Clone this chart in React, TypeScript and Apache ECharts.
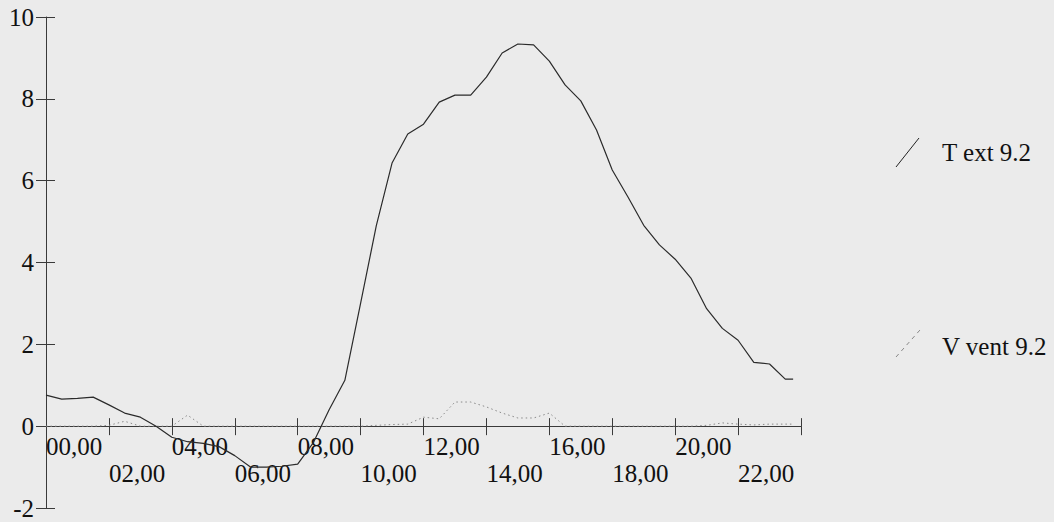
import React, { useEffect, useRef } from "react";
import * as echarts from "echarts";

// Time of day in hours (half-hourly readings)
const hours = [
  0, 0.5, 1, 1.5, 2, 2.5, 3, 3.5, 4, 4.5, 5, 5.5, 6, 6.5, 7, 7.5, 8, 8.5, 9, 9.5,
  10, 10.5, 11, 11.5, 12, 12.5, 13, 13.5, 14, 14.5, 15, 15.5, 16, 16.5, 17, 17.5,
  18, 18.5, 19, 19.5, 20, 20.5, 21, 21.5, 22, 22.5, 23, 23.5, 23.75,
];

// "T ext 9.2" – outside temperature
const textValues = [
  0.76, 0.66, 0.68, 0.71, 0.52, 0.32, 0.22, 0.0, -0.27, -0.38, -0.42, -0.5, -0.72,
  -1.0, -1.0, -0.98, -0.93, -0.4, 0.4, 1.12, 3.0, 4.9, 6.43, 7.14, 7.38, 7.92, 8.09,
  8.09, 8.53, 9.12, 9.34, 9.32, 8.92, 8.34, 7.95, 7.24, 6.26, 5.6, 4.91, 4.43, 4.08,
  3.62, 2.87, 2.39, 2.1, 1.56, 1.52, 1.15, 1.15,
];

// "V vent 9.2" – wind speed
const ventValues = [
  0, 0, 0, 0, 0.02, 0.12, 0, 0, 0, 0.27, 0, 0, 0, 0, 0, 0, 0, 0, 0, 0, 0, 0.02, 0.04,
  0.05, 0.22, 0.18, 0.59, 0.59, 0.47, 0.32, 0.2, 0.2, 0.32, 0, 0, 0, 0, 0, 0, 0, 0, 0,
  0.02, 0.08, 0.05, 0.03, 0.05, 0.05, 0.05,
];

const seriesNames = ["T ext 9.2", "V vent 9.2"];
const xMin = 0;
const xMax = 24;
const xStep = 2;
const yMin = -2;
const yMax = 10;
const yStep = 2;

const FONT = '"Liberation Serif", "Times New Roman", serif';
const AXIS_COLOR = "#3a3a3a";
const TEXT_COLOR = "#111111";

// grid geometry
const GRID_TOP = 17;
const GRID_BOTTOM = 14;
const CHART_H = 522;
const plotH = CHART_H - GRID_TOP - GRID_BOTTOM;
// distance from the grid's bottom edge up to the y = 0 line
const zeroLift = (plotH * (0 - yMin)) / (yMax - yMin);

function formatHour(v: number): string {
  if (v >= 24) return "";
  const s = (v < 10 ? "0" : "") + v + ",00";
  return v % 4 === 2 ? "\n" + s : s;
}

export default function App() {
  const ref = useRef<HTMLDivElement>(null);

  useEffect(() => {
    if (!ref.current) return;
    const chart = echarts.init(ref.current, undefined, { renderer: "svg" });

    const textData = hours.map((h, i) => [h, textValues[i]]);
    const ventData = hours.map((h, i) => [h, ventValues[i]]);

    const option: any = {
      animation: false,
      backgroundColor: "#ebebeb",
      textStyle: { fontFamily: FONT },
      grid: {
        left: 46,
        top: GRID_TOP,
        right: 253,
        bottom: GRID_BOTTOM,
        containLabel: false,
        outerBoundsMode: "none",
      },
      xAxis: [
        {
          type: "value",
          min: xMin,
          max: xMax,
          interval: xStep,
          position: "bottom",
          axisLine: {
            show: true,
            onZero: true,
            onZeroAxisIndex: 0,
            lineStyle: { color: AXIS_COLOR, width: 1.2 },
          },
          axisTick: {
            show: true,
            inside: false,
            length: 9,
            lineStyle: { color: AXIS_COLOR, width: 1 },
          },
          axisLabel: {
            show: true,
            formatter: formatHour,
            align: "left",
            verticalAlign: "top",
            margin: 7 - zeroLift,
            fontSize: 25,
            lineHeight: 27,
            color: TEXT_COLOR,
            fontFamily: FONT,
            showMinLabel: true,
            showMaxLabel: true,
          },
          splitLine: { show: false },
        },
        {
          type: "value",
          min: xMin,
          max: xMax,
          interval: xStep,
          position: "bottom",
          axisLine: { show: false, onZero: true, onZeroAxisIndex: 0 },
          axisTick: {
            show: true,
            inside: true,
            length: 8,
            lineStyle: { color: AXIS_COLOR, width: 1 },
          },
          axisLabel: { show: false },
          splitLine: { show: false },
        },
      ],
      yAxis: [
        {
          type: "value",
          min: yMin,
          max: yMax,
          interval: yStep,
          position: "left",
          axisLine: {
            show: true,
            onZero: true,
            onZeroAxisIndex: 0,
            lineStyle: { color: AXIS_COLOR, width: 1 },
          },
          axisTick: {
            show: true,
            inside: false,
            length: 10,
            lineStyle: { color: AXIS_COLOR, width: 1 },
          },
          axisLabel: {
            show: true,
            margin: 12,
            fontSize: 25,
            color: TEXT_COLOR,
            fontFamily: FONT,
            showMinLabel: true,
            showMaxLabel: true,
          },
          splitLine: { show: false },
        },
        {
          type: "value",
          min: yMin,
          max: yMax,
          interval: yStep,
          position: "left",
          axisLine: { show: false, onZero: true, onZeroAxisIndex: 0 },
          axisTick: {
            show: true,
            inside: true,
            length: 9,
            lineStyle: { color: AXIS_COLOR, width: 1 },
          },
          axisLabel: { show: false },
          splitLine: { show: false },
        },
      ],
      series: [
        {
          name: seriesNames[1],
          type: "line",
          xAxisIndex: 0,
          yAxisIndex: 0,
          data: ventData,
          symbol: "none",
          showSymbol: false,
          lineStyle: { color: "#8a8a8a", width: 1, type: [1.5, 3] },
          z: 2,
        },
        {
          name: seriesNames[0],
          type: "line",
          xAxisIndex: 0,
          yAxisIndex: 0,
          data: textData,
          symbol: "none",
          showSymbol: false,
          lineStyle: { color: "#2b2b2b", width: 1.2 },
          z: 3,
        },
      ],
      graphic: [
        {
          type: "line",
          shape: { x1: 896, y1: 167, x2: 919, y2: 138 },
          style: { stroke: "#222222", lineWidth: 1 },
        },
        {
          type: "text",
          x: 942,
          y: 152,
          style: {
            text: seriesNames[0],
            fontSize: 25,
            fontFamily: FONT,
            fill: TEXT_COLOR,
            verticalAlign: "middle",
            align: "left",
          },
        },
        {
          type: "line",
          shape: { x1: 896, y1: 357, x2: 920, y2: 330 },
          style: { stroke: "#888888", lineWidth: 1, lineDash: [4, 4] },
        },
        {
          type: "text",
          x: 942,
          y: 346,
          style: {
            text: seriesNames[1],
            fontSize: 25,
            fontFamily: FONT,
            fill: TEXT_COLOR,
            verticalAlign: "middle",
            align: "left",
          },
        },
      ],
    };

    chart.setOption(option);
    return () => {
      chart.dispose();
    };
  }, []);

  return (
    <div
      ref={ref}
      style={{ position: "absolute", left: 0, top: 0, width: 1054, height: 522 }}
    />
  );
}
